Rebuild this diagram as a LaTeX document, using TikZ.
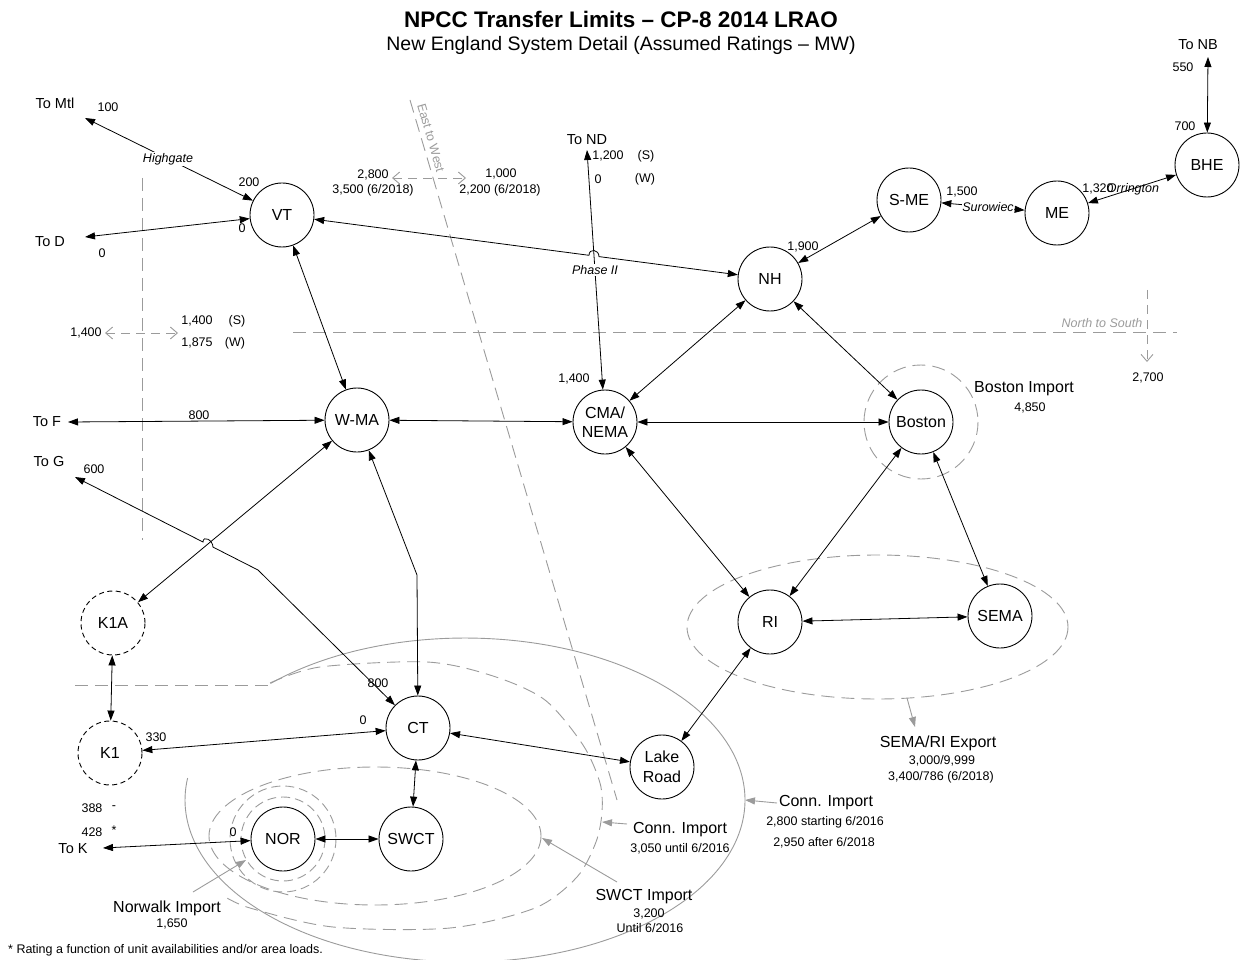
\documentclass[tikz,border=0pt]{standalone}
\usepackage{fontspec}
\setmainfont{Liberation Sans}
\usetikzlibrary{arrows.meta,calc}
\definecolor{gl}{RGB}{155,155,155}
\begin{document}
\begin{tikzpicture}[x=1pt,y=-1pt,
  nd/.style={circle,draw,line width=0.9pt,minimum size=64pt,inner sep=0pt,align=center,font=\fontsize{16}{19.5}\selectfont},
  ndd/.style={nd,dash pattern=on 5pt off 3.5pt},
  sm/.style={inner sep=0pt,font=\fontsize{12.5}{14}\selectfont},
  smi/.style={inner sep=0pt,font=\fontsize{12.5}{14}\selectfont\itshape},
  bl/.style={inner sep=0pt,font=\fontsize{16}{18}\selectfont},
  tl/.style={inner sep=0pt,font=\fontsize{14.5}{16}\selectfont},
  con/.style={line width=0.8pt,{Triangle[length=10pt,width=7pt]}-{Triangle[length=10pt,width=7pt]}},
  gbound/.style={draw=gl,line width=0.9pt,dash pattern=on 13pt off 7pt},
  gsolid/.style={draw=gl,line width=0.9pt},
  garr/.style={draw=gl,line width=0.9pt,-{Triangle[length=10pt,width=7pt]}},
  oarr/.style={draw=gl,line width=0.9pt,dash pattern=on 9pt off 6pt,{Straight Barb[length=7pt,width=12pt]}-{Straight Barb[length=7pt,width=12pt]}},
  oarrs/.style={draw=gl,line width=0.9pt,dash pattern=on 9pt off 6pt,-{Straight Barb[length=7pt,width=12pt]}},
]
\useasboundingbox (0,0) rectangle (1243,960);

% ---------- boundaries (background) ----------
\draw[gbound] (142,178) -- (142,540);
\draw[gbound] (75,685) -- (270,685);
\draw[gbound] (293,332) -- (1177,332);
\draw[gbound] (410,100) -- (617,800);
\draw[gbound] (921,422) circle[radius=57];
\draw[gbound] (877.5,627) ellipse[x radius=190.5,y radius=72];
\draw[gbound,dash pattern=on 9pt off 5pt] (283,839) circle[radius=42];
\draw[gbound,dash pattern=on 9pt off 5pt] (283,839) circle[radius=53];
\draw[gbound] (375,836) ellipse[x radius=166,y radius=69];
\draw[gbound] plot[smooth] coordinates {(270,683) (320,667) (427,662) (493,676) (545,700) (583,745) (600,783) (602,812) (596,842) (577,877) (535,908) (450,928) (333,927) (250,908) (222,895)};
\draw[gsolid] (270.5,683.5) arc[start angle=-134,end angle=187.8,x radius=280,y radius=162];

% ---------- nodes ----------
\node[nd] (VT) at (282,215) {VT};
\node[nd] (NH) at (770,279) {NH};
\node[nd] (SME) at (909,200) {S-ME};
\node[nd] (ME) at (1057,213) {ME};
\node[nd] (BHE) at (1207,165) {BHE};
\node[nd] (WMA) at (357,420) {W-MA};
\node[nd] (CMA) at (605,422) {CMA/\\NEMA};
\node[nd] (BOS) at (921,422) {Boston};
\node[nd] (RI) at (770,622) {RI};
\node[nd] (SEMA) at (1000,616) {SEMA};
\node[ndd] (K1A) at (113,623) {K1A};
\node[ndd] (K1) at (110,753) {K1};
\node[nd] (CT) at (418,728) {CT};
\node[nd] (LR) at (662,767) {Lake\\Road};
\node[nd] (NOR) at (283,839) {NOR};
\node[nd] (SWCT) at (411,839) {SWCT};

\coordinate (ToMtlE) at (85,118);
\coordinate (ToDE) at (85,237);
\coordinate (ToFE) at (68,422);
\coordinate (ToGE) at (75,477);
\coordinate (ToKE) at (103,848);
\coordinate (ToNDE) at (587,150);
\coordinate (ToNBE) at (1208,57);

% ---------- connectors ----------
\draw[con] (ToMtlE) -- (VT);
\draw[con] (ToDE) -- (VT);
\draw[con] (VT) -- (589,255.3) .. controls (589,248) and (599,249.3) .. (599,256.6) -- (NH);
\draw[con] (ToNDE) -- (CMA);
\draw[con] (VT) -- (WMA);
\draw[con] (ToFE) -- (WMA);
\draw[con] (WMA) -- (CMA);
\draw[con] (CMA) -- (BOS);
\draw[con] (NH) -- (CMA);
\draw[con] (NH) -- (BOS);
\draw[con] (NH) -- (SME);
\draw[con] (SME) -- (ME);
\draw[con] (ME) -- (BHE);
\draw[con] (ToNBE) -- (BHE);
\draw[con] (CMA) -- (RI);
\draw[con] (BOS) -- (RI);
\draw[con] (BOS) -- (SEMA);
\draw[con] (RI) -- (SEMA);
\draw[con] (RI) -- (LR);
\draw[con] (CT) -- (LR);
\draw[con] (CT) -- (SWCT);
\draw[con] (NOR) -- (SWCT);
\draw[con] (K1) -- (CT);
\draw[con] (ToKE) -- (NOR);
\draw[con] (K1A) -- (K1);
\draw[con] (K1A) -- (WMA);
\draw[con] (WMA) -- (417,575) -- (CT);
\draw[con] (ToGE) -- (203,542) .. controls (203,535) and (213,540) .. (213,547.1) -- (258,570) -- (CT);

% ---------- gray arrows ----------
\draw[garr] (777,803) -- (745,800);
\draw[garr] (627,824) -- (602,822);
\draw[garr] (617,882) -- (542,838);
\draw[garr] (193,892) -- (246,860);
\draw[garr] (907,698) -- (915,727);
\draw[oarr] (105,333) -- (178,333);
\draw[oarr] (392,178) -- (466,178);
\draw[oarrs] (1147,290) -- (1147,362);

% ---------- texts ----------
\node[font=\bfseries\fontsize{22.5}{25}\selectfont] (title) at (621,19) {NPCC Transfer Limits – CP-8 2014 LRAO};
\node[font=\fontsize{19.5}{22}\selectfont] (subtitle) at (621,45) {New England System Detail (Assumed Ratings – MW)};

\node[tl] (tMtl) at (55,103) {To Mtl};
\node[sm] (l100) at (108,107) {100};
\node[smi,fill=white,inner sep=1pt] (lHigh) at (168,159) {Highgate};
\node[sm] (l200) at (249,182) {200};
\node[tl] (tD) at (50,242) {To D};
\node[sm] (lD0) at (102,253) {0};
\node[sm] (lVT0) at (242,228) {0};
\node[sm,text=gl,rotate=-74] (lEW) at (431,138) {East to West};
\node[sm] (l2800) at (373,175) {2,800};
\node[sm] (l3500) at (373,190) {3,500 (6/2018)};
\node[sm] (l1000) at (501,174) {1,000};
\node[sm] (l2200) at (500,190) {2,200 (6/2018)};
\node[tl] (tND) at (587,140) {To ND};
\node[sm] (l1200) at (608,156) {1,200};
\node[sm] (lS1) at (646,156) {(S)};
\node[sm] (lND0) at (598,179) {0};
\node[sm] (lW1) at (645,179) {(W)};
\node[smi,fill=white,inner sep=1pt] (lPh) at (595,270) {Phase II};
\node[sm] (l1400c) at (574,379) {1,400};
\node[sm] (l1900) at (803,247) {1,900};
\node[sm] (l1500) at (962,192) {1,500};
\node[smi,fill=white,inner sep=0.5pt] (lSur) at (988,207) {Surowiec};
\node[smi] (lOrr) at (1133,189) {Orrington};
\node[sm] (l1320) at (1098,189) {1,320};
\node[tl] (tNB) at (1198,45) {To NB};
\node[sm] (l550) at (1183,67) {550};
\node[sm] (l700) at (1185,126) {700};
\node[sm] (l1400w) at (86,333) {1,400};
\node[sm] (l1400s) at (197,321) {1,400};
\node[sm] (lS2) at (237,321) {(S)};
\node[sm] (l1875) at (197,343) {1,875};
\node[sm] (lW2) at (235,343) {(W)};
\node[tl] (tF) at (47,422) {To F};
\node[sm] (l800f) at (199,415) {800};
\node[tl] (tG) at (49,462) {To G};
\node[sm] (l600) at (94,469) {600};
\node[smi,text=gl] (lNS) at (1102,323) {North to South};
\node[sm] (l2700) at (1148,378) {2,700};
\node[bl] (lBI) at (1024,389) {Boston Import};
\node[sm] (l4850) at (1030,408) {4,850};
\node[bl] (lSE) at (938,743) {SEMA/RI Export};
\node[sm] (l3000) at (942,761) {3,000/9,999};
\node[sm] (l3400) at (941,777) {3,400/786 (6/2018)};
\node[bl] (lCI1) at (826,803) {Conn. Import};
\node[sm] (l2800b) at (825,822) {2,800 starting 6/2016};
\node[sm] (l2950) at (824,843) {2,950 after 6/2018};
\node[bl] (lCI2) at (680,830) {Conn. Import};
\node[sm] (l3050) at (680,849) {3,050 until 6/2016};
\node[bl] (lSI) at (644,897) {SWCT Import};
\node[sm] (l3200) at (649,914) {3,200};
\node[sm] (lUntil) at (650,928) {Until 6/2016};
\node[bl] (lNI) at (167,908) {Norwalk Import};
\node[sm] (l1650) at (172,924) {1,650};
\node[sm] (l330) at (156,737) {330};
\node[sm] (lCT0) at (363,720) {0};
\node[sm] (l800c) at (378,683) {800};
\node[sm] (l388) at (92,808) {388};
\node[sm] (ldash) at (114,808) {-};
\node[sm] (l428) at (92,832) {428};
\node[sm] (lstar) at (114,830) {*};
\node[tl] (tK) at (73,849) {To K};
\node[sm] (lNOR0) at (233,832) {0};
\node[sm,anchor=west] (foot) at (8,950) {* Rating a function of unit availabilities and/or area loads.};
\end{tikzpicture}
\end{document}
